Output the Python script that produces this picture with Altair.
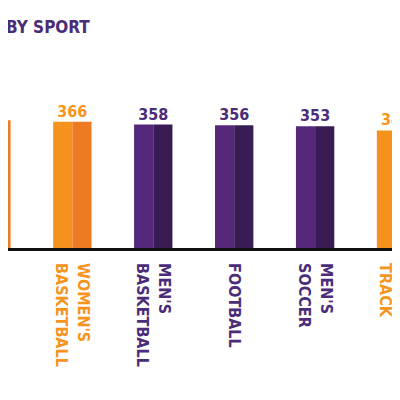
import altair as alt
import pandas as pd

# data (cropped view of a larger chart)
sports = ["VOLLEYBALL", "WOMEN'S\nBASKETBALL", "MEN'S\nBASKETBALL", "FOOTBALL", "MEN'S\nSOCCER", "WOMEN'S\nTRACK"]
values = [370, 366, 358, 356, 353, 341]
groups = ["women", "women", "men", "men", "men", "women"]

idx = list(range(len(sports)))
half = 0.237  # half bar width in category units

df = pd.DataFrame({
    "i": idx,
    "sport": sports,
    "value": values,
    "group": groups,
})
df["x_left"] = df["i"] - half
df["x_right"] = df["i"] + half
df["label"] = df["sport"].str.split("\n")
df["nlines"] = df["label"].str.len()
df["label_y"] = -39

W, H = 384, 376
xs = alt.Scale(domain=[0.205, 4.950], range=[0, W], nice=False, zero=False)
ys = alt.Scale(domain=[-385.4, 692.0], range=[H, 0], nice=False, zero=False)

light = alt.Scale(domain=["women", "men"], range=["#F5921E", "#56287C"])
dark = alt.Scale(domain=["women", "men"], range=["#EE7A22", "#3A1C54"])
txtc = alt.Scale(domain=["women", "men"], range=["#F7941D", "#4B2C78"])

FONT = "DejaVu Sans Condensed, DejaVu Sans, sans-serif"

base = alt.Chart(df)

bar_l = base.mark_bar(clip=True).encode(
    x=alt.X("x_left:Q", scale=xs, axis=None),
    x2="i:Q",
    y=alt.Y("value:Q", scale=ys, axis=None),
    y2=alt.datum(0),
    color=alt.Color("group:N", scale=light, legend=None),
)
bar_r = base.mark_bar(clip=True).encode(
    x=alt.X("i:Q", scale=xs, axis=None),
    x2="x_right:Q",
    y=alt.Y("value:Q", scale=ys, axis=None),
    y2=alt.datum(0),
    color=alt.Color("group:N", scale=dark, legend=None),
)

vals = base.mark_text(font=FONT, fontWeight="bold", fontSize=16,
                      baseline="alphabetic", dy=-5).encode(
    x=alt.X("i:Q", scale=xs, axis=None),
    y=alt.Y("value:Q", scale=ys, axis=None),
    text="value:Q",
    color=alt.Color("group:N", scale=txtc, legend=None),
)

def name_layer(n, shift):
    return base.transform_filter(alt.datum.nlines == n).mark_text(
        font=FONT, fontWeight="bold", fontSize=16, angle=90,
        align="left", baseline="middle", lineHeight=22, dy=shift,
    ).encode(
        x=alt.X("i:Q", scale=xs, axis=None),
        y=alt.Y("label_y:Q", scale=ys, axis=None),
        text="label",
        color=alt.Color("group:N", scale=txtc, legend=None),
    )

names1 = name_layer(1, 0)
names2 = name_layer(2, -11)

baseline = alt.Chart(pd.DataFrame({"z": [0]})).mark_rule(color="#111111", strokeWidth=3).encode(
    y=alt.Y("z:Q", scale=ys, axis=None),
)

title = alt.Chart(pd.DataFrame({"t": ["BY SPORT"]})).mark_text(
    font=FONT, fontWeight="bold", fontSize=17, align="left", baseline="alphabetic",
    color="#4B2C78",
).encode(x=alt.value(-2), y=alt.value(25), text="t:N")

chart = alt.layer(bar_l, bar_r, baseline, vals, names1, names2, title).resolve_scale(
    color="independent"
).properties(
    width=W, height=H, autosize=alt.AutoSizeParams(type="none"), padding=0,
    background="white",
).configure_view(stroke="transparent", strokeWidth=0)

chart.save("out.html", embed_options={"renderer": "svg", "actions": False})
